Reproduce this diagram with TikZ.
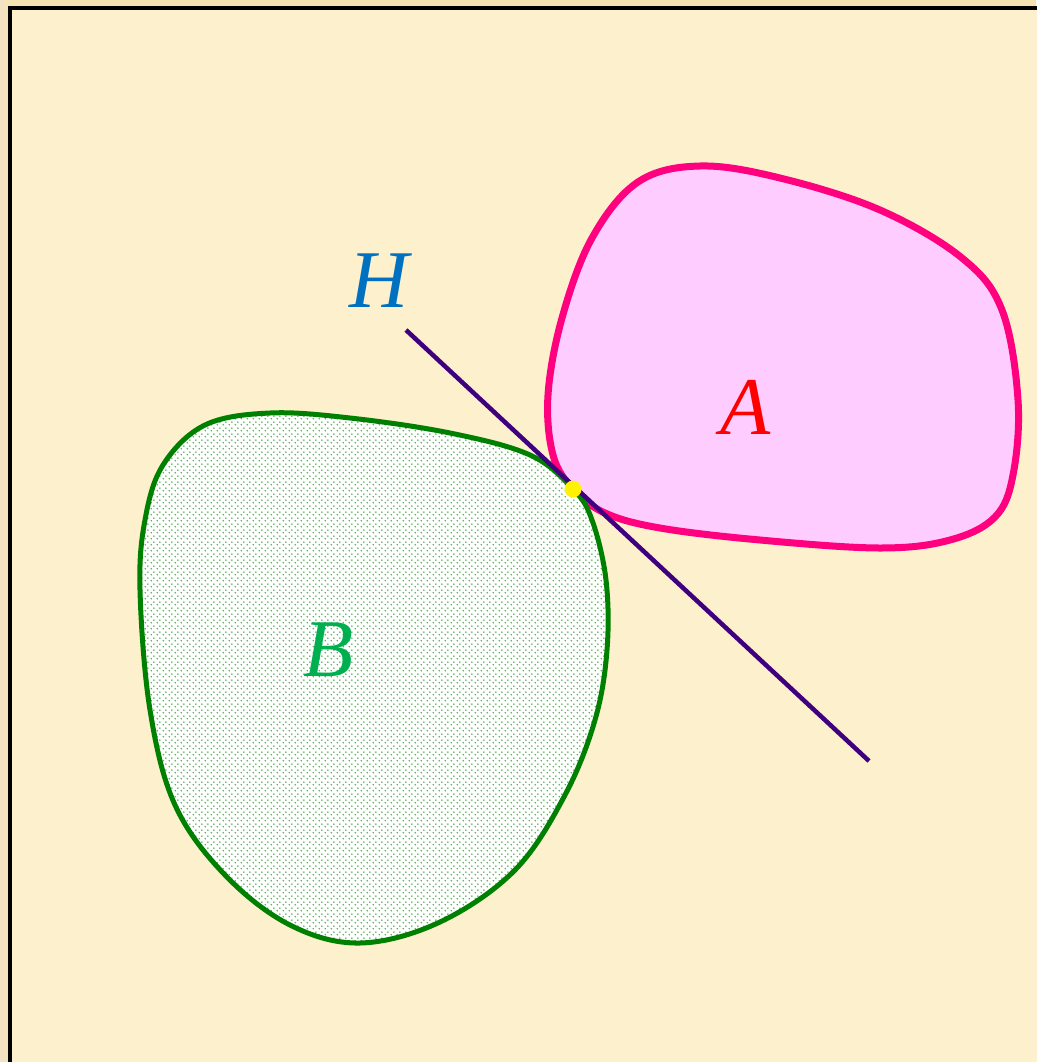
\documentclass[tikz,border=0pt]{standalone}
\usepackage{fontspec}
\setmainfont{Liberation Serif}
\usetikzlibrary{patterns.meta}
\definecolor{outerbg}{HTML}{F5E3B4}
\definecolor{innerbg}{HTML}{FDF0CC}
\definecolor{pinkfill}{HTML}{FFCCFF}
\definecolor{pinkline}{HTML}{FF007F}
\definecolor{greenline}{HTML}{008000}
\definecolor{greendot}{HTML}{4FA84F}
\definecolor{hline}{HTML}{3F0080}
\definecolor{hlabel}{HTML}{0070C0}
\definecolor{blabel}{HTML}{00B050}
\tikzdeclarepattern{
  name=bigdots, type=uncolored,
  bounding box={(0pt,0pt) and (6pt,6pt)},
  tile size={(6pt,6pt)},
  code={
    \fill (1.5pt,1.5pt) circle (0.95pt);
    \fill (4.5pt,4.5pt) circle (0.95pt);
  }
}
\tikzset{
  lbl/.style={font=\fontsize{82}{96}\selectfont\itshape, inner sep=0pt},
  setA/.style={draw=pinkline, fill=pinkfill, line width=7pt},
  setB/.style={draw=greenline, line width=5pt, preaction={fill=white}, pattern=bigdots, pattern color=greendot},
  hyper/.style={draw=hline, line width=4.5pt}
}
\begin{document}
\begin{tikzpicture}[x=1pt,y=-1pt]
\useasboundingbox (0,0) rectangle (1036,1062);
\fill[outerbg] (0,0) rectangle (1036,1062);
\fill[left color=outerbg!80!brown!60, right color=outerbg] (0,0) rectangle (10,1062);
\filldraw[fill=innerbg, draw=black, line width=4pt] (10,8) rectangle (1050,1080);
% set A
\draw[setA] plot[smooth cycle, tension=0.6] coordinates {
 (573,489) (553,455) (548,395) (562,318) (592,238) (638,182) (700,166)
 (780,178) (880,210) (962,258) (1002,310) (1018,400) (1013,475) (995,517)
 (950,540) (880,548) (760,540) (660,528) (605,513)};
% set B
\draw[setB] plot[smooth cycle, tension=0.6] coordinates {
 (573,489) (592,520) (606,580) (607,650) (595,720) (565,795) (515,870)
 (440,922) (360,943) (290,925) (225,875) (175,805) (150,710) (140,590)
 (145,520) (163,465) (205,425) (270,413) (350,418) (450,433) (530,455)};
% hyperplane
\coordinate (h1) at (406,330);
\coordinate (h2) at (869,761);
\draw[hyper] (h1) -- (h2);
% tangent point
\fill[yellow] (573,489) circle (8.5);
% labels
\node[lbl, text=hlabel] (H) at (379,281) {H};
\node[lbl, text=red] (A) at (746,407) {A};
\node[lbl, text=blabel] (B) at (329,650) {B};
\end{tikzpicture}
\end{document}
